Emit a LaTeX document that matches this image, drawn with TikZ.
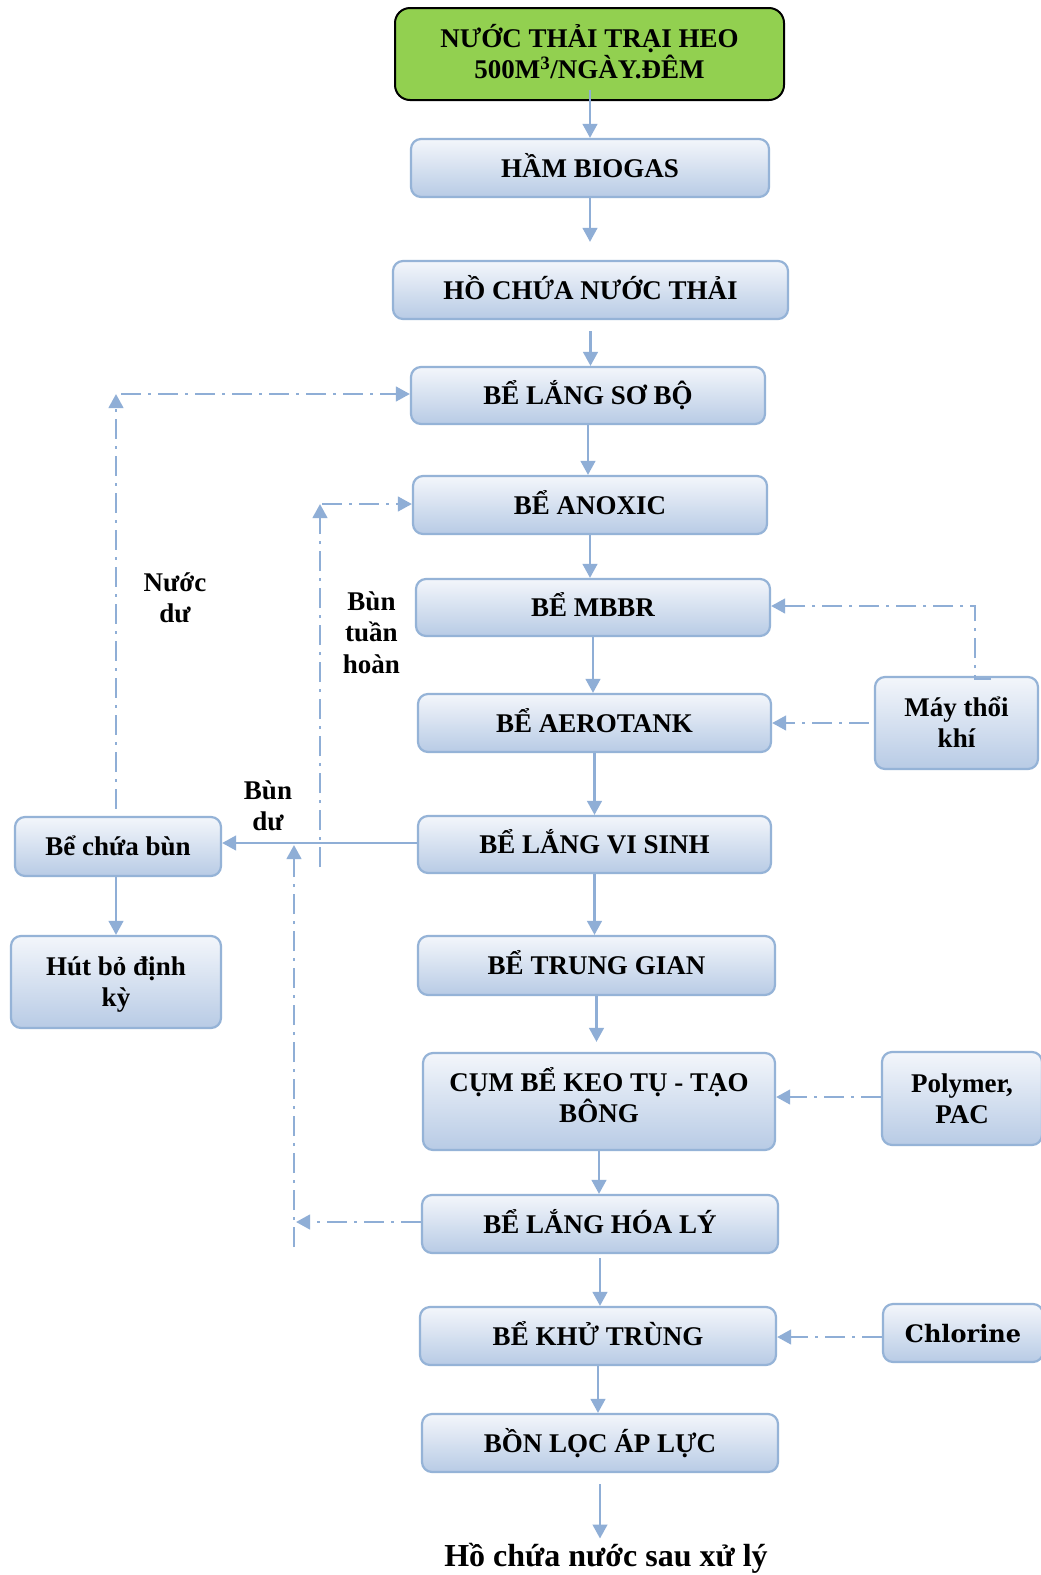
\documentclass[tikz,border=0pt]{standalone}
\usepackage{fontspec}
\setmainfont{Liberation Serif}
\newfontfamily\slabfont{DejaVu Serif}
\usetikzlibrary{arrows.meta}
\definecolor{lineblue}{RGB}{143,174,214}
\definecolor{boxedge}{RGB}{149,179,215}
\definecolor{boxtop}{RGB}{243,246,251}
\definecolor{boxbot}{RGB}{184,203,229}
\definecolor{greenfill}{RGB}{146,208,80}
\newcommand\twolines[2]{\vbox{\baselineskip=31pt\lineskiplimit=-100pt\lineskip=0pt\halign{\hfil##\hfil\cr#1\cr#2\cr}}}
\newcommand\threelines[3]{\vbox{\baselineskip=31.5pt\lineskiplimit=-100pt\lineskip=0pt\halign{\hfil##\hfil\cr#1\cr#2\cr#3\cr}}}
\tikzset{
  basebox/.style={inner sep=0pt, font=\bfseries\fontsize{27}{31}\selectfont, text height=18pt, text depth=0pt},
  box/.style={basebox, draw=boxedge, line width=2.2pt, rounded corners=10pt, top color=boxtop, bottom color=boxbot},
  greenbox/.style={basebox, draw=black, line width=2pt, rounded corners=15pt, fill=greenfill},
  two/.style={text height=49pt, text depth=0pt},
  lab/.style={inner sep=0pt, anchor=base, font=\bfseries\fontsize{27}{31}\selectfont},
  conn/.style={draw=lineblue, line width=2.7pt, -{Triangle[width=14.5pt,length=14pt]}},
  ddash/.style={conn, dash pattern=on 20pt off 7pt on 3pt off 7pt},
}
\begin{document}
\begin{tikzpicture}[x=1pt,y=-1pt]
\useasboundingbox (0,0) rectangle (1041,1575);
\fill[white] (0,0) rectangle (1041,1575);
% main column
\node[greenbox, two, minimum width=389pt, minimum height=92pt] (green) at (589.5,54) {\twolines{NƯỚC THẢI TRẠI HEO}{500M\textsuperscript{3}/NGÀY.ĐÊM}};
\node[box, minimum width=358pt, minimum height=58pt] (ham) at (590,168) {HẦM BIOGAS};
\node[box, minimum width=395pt, minimum height=58pt] (hochua) at (590.5,290) {HỒ CHỨA NƯỚC THẢI};
\node[box, minimum width=354pt, minimum height=57pt] (langsobo) at (588,395.5) {BỂ LẮNG SƠ BỘ};
\node[box, minimum width=354pt, minimum height=58pt] (anoxic) at (590,505) {BỂ ANOXIC};
\node[box, minimum width=354pt, minimum height=57pt] (mbbr) at (593,607.5) {BỂ MBBR};
\node[box, minimum width=353pt, minimum height=58pt] (aero) at (594.5,723) {BỂ AEROTANK};
\node[box, minimum width=353pt, minimum height=57pt] (langvisinh) at (594.5,844.5) {BỂ LẮNG VI SINH};
\node[box, minimum width=357pt, minimum height=59pt] (trunggian) at (596.5,965.5) {BỂ TRUNG GIAN};
\node[box, two, text depth=8pt, minimum width=352pt, minimum height=97pt] (cum) at (599,1101.5) {\twolines{CỤM BỂ KEO TỤ - TẠO}{BÔNG}};
\node[box, minimum width=356pt, minimum height=58pt] (hoaly) at (600,1224) {BỂ LẮNG HÓA LÝ};
\node[box, minimum width=356pt, minimum height=58pt] (khutrung) at (598,1336) {BỂ KHỬ TRÙNG};
\node[box, minimum width=356pt, minimum height=58pt] (bon) at (600,1443) {BỒN LỌC ÁP LỰC};
\node[lab, font=\bfseries\fontsize{32}{36}\selectfont] (final) at (606,1566) {Hồ chứa nước sau xử lý};
% side boxes
\node[box, minimum width=206pt, minimum height=59pt] (chuabun) at (118,846.5) {Bể chứa bùn};
\node[box, two, minimum width=210pt, minimum height=92pt] (hutbo) at (116,982) {\twolines{Hút bỏ định}{kỳ}};
\node[box, two, minimum width=163pt, minimum height=92pt] (may) at (956.5,723) {\twolines{Máy thổi}{khí}};
\node[box, two, minimum width=160pt, minimum height=93pt] (polymer) at (962,1098.5) {\twolines{Polymer,}{PAC}};
\node[box, minimum width=160pt, minimum height=58pt, font=\slabfont\bfseries\fontsize{24}{28}\selectfont] (chlorine) at (963,1333) {Chlorine};
% labels
\node[lab] (nuocdu) at (175,622) {\twolines{Nước}{dư}};
\node[lab] (buntuanhoan) at (371.5,673) {\threelines{Bùn}{tuần}{hoàn}};
\node[lab] (bundu) at (268,830) {\twolines{Bùn}{dư}};
% main flow
\draw[conn] ([yshift=11pt]ham.north |- green.south) -- (ham.north);
\draw[conn] (ham.south) -- ([yshift=18pt]ham.south |- hochua.north);
\draw[conn] ([yshift=-11pt]hochua.south) -- (hochua.south |- langsobo.north);
\draw[conn] (langsobo.south) -- (langsobo.south |- anoxic.north);
\draw[conn] (anoxic.south) -- (anoxic.south |- mbbr.north);
\draw[conn] (mbbr.south) -- (mbbr.south |- aero.north);
\draw[conn] (aero.south) -- (aero.south |- langvisinh.north);
\draw[conn] (langvisinh.south) -- (langvisinh.south |- trunggian.north);
\draw[conn] (trunggian.south) -- ([yshift=10pt]trunggian.south |- cum.north);
\draw[conn] (cum.south) -- (cum.south |- hoaly.north);
\draw[conn] ([yshift=-4pt]hoaly.south) -- (hoaly.south |- khutrung.north);
\draw[conn] (khutrung.south) -- (khutrung.south |- bon.north);
\draw[conn, shorten >=4pt] ([yshift=-11pt]bon.south) -- (bon.south |- final.north);
% sludge
\draw[conn] ([yshift=1.5pt]langvisinh.west) -- ([yshift=1.5pt]langvisinh.west -| chuabun.east);
\draw[conn] (hutbo.north |- chuabun.south) -- (hutbo.north);
% recycle lines
\coordinate (ndtop) at (116,394);
\draw[ddash] ([yshift=7pt]ndtop |- chuabun.north) -- (ndtop);
\draw[ddash] ([xshift=5pt]ndtop) -- (ndtop -| langsobo.west);
\coordinate (bttop) at (320,504);
\coordinate (btbot) at (320,867);
\draw[ddash] (btbot) -- (bttop);
\draw[ddash] ([xshift=2pt]bttop) -- (bttop -| anoxic.west);
\coordinate (hltop) at (294,845);
\coordinate (hlbot) at (294,1247);
\draw[ddash] (hlbot) -- (hltop);
\draw[ddash] ([yshift=2pt]hoaly.west) -- ([yshift=2pt,xshift=2pt]hoaly.west -| hltop);
% chemicals / air
\coordinate (mya) at (991,679);
\coordinate (myb) at (975,679);
\coordinate (myc) at (975,606);
\draw[ddash] (mya) -- (myb) -- (myc) -- (myc -| mbbr.east);
\draw[ddash] ([xshift=-5pt]may.west) -- (may.west -| aero.east);
\draw[ddash] ([yshift=1.5pt]polymer.west) -- ([yshift=1.5pt]polymer.west -| cum.east);
\draw[ddash] ([yshift=-4pt]chlorine.west) -- ([yshift=-4pt]chlorine.west -| khutrung.east);
\end{tikzpicture}
\end{document}
